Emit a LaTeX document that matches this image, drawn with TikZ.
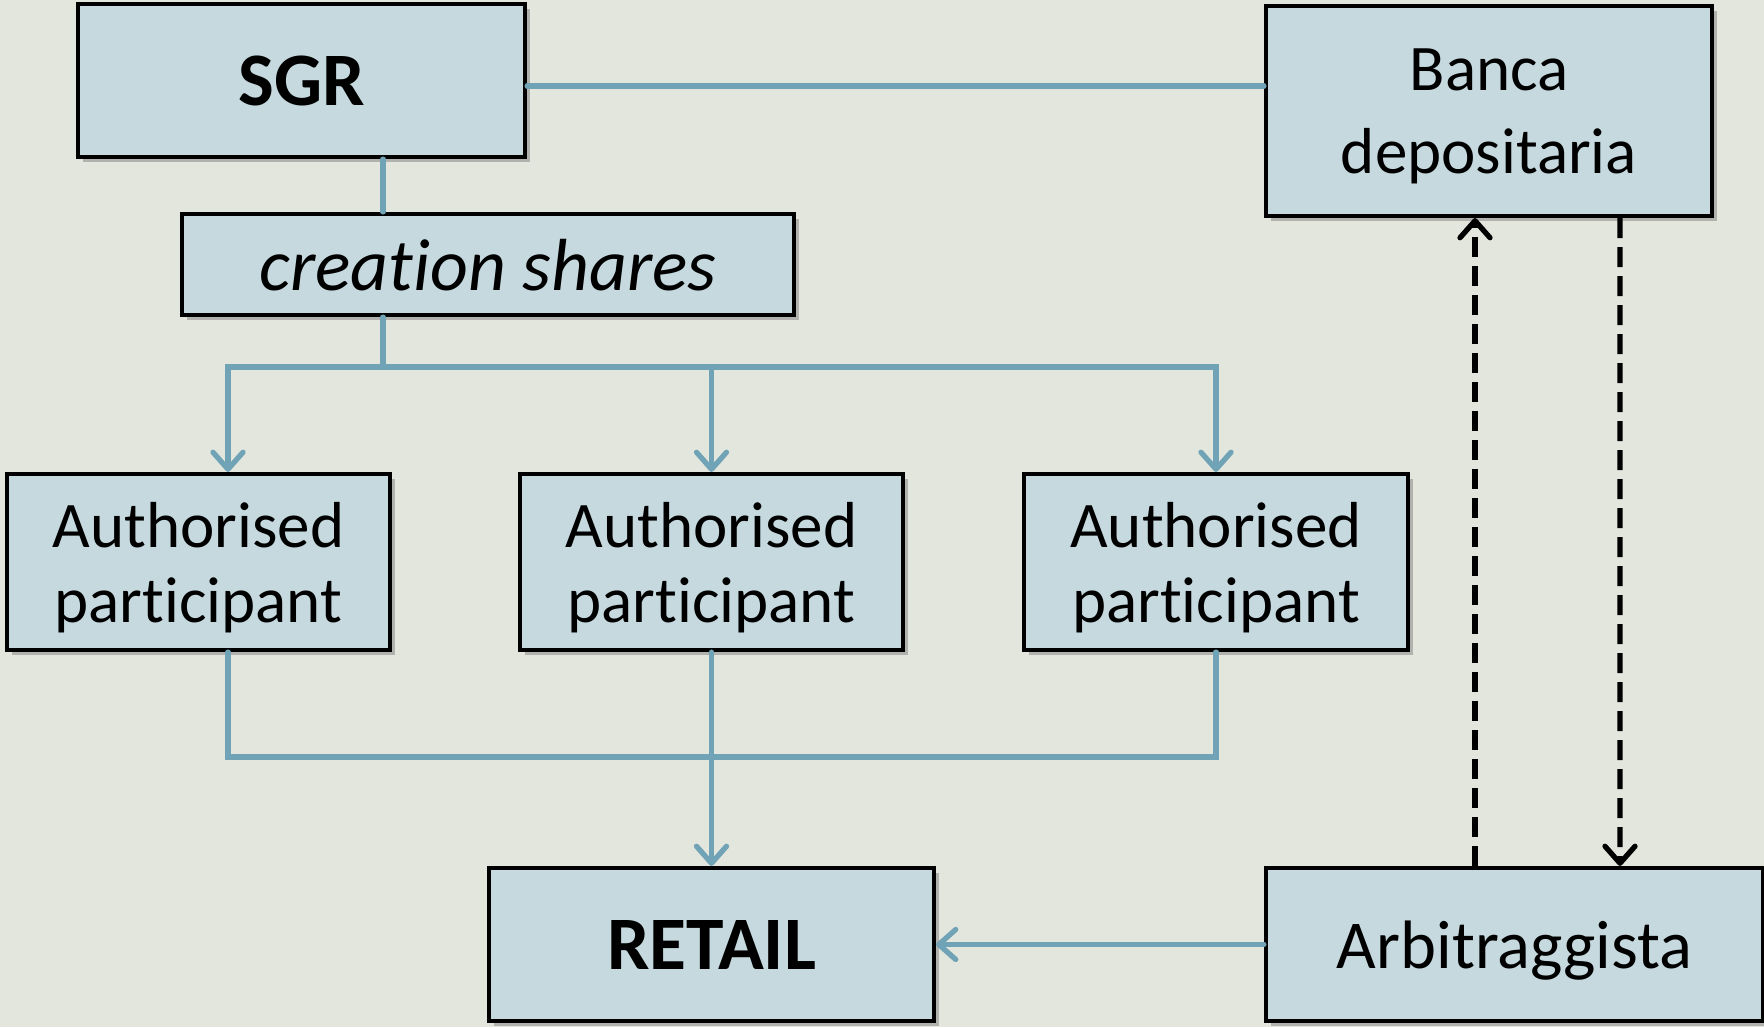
\documentclass[tikz,border=0pt]{standalone}
\usepackage{fontspec}
\setmainfont{Carlito}[Ligatures=NoCommon]
\usetikzlibrary{arrows.meta,shadows}
\definecolor{bgcol}{RGB}{227,230,221}
\definecolor{boxcol}{RGB}{197,217,223}
\definecolor{linecol}{RGB}{111,163,181}
\begin{document}
\begin{tikzpicture}
        \tikzstyle{every node}=[draw=black, line width=1.2pt, fill=boxcol, inner sep=0pt, align=center, text depth=0pt, drop shadow={shadow xshift=0.05cm, shadow yshift=-0.05cm, opacity=0.5}, font=\fontsize{18.5}{21.3}\selectfont]
        \tikzstyle{bold}=[font=\fontsize{21.5}{24}\selectfont\bfseries]
        \tikzstyle{flow}=[draw=linecol, line width=1.5pt, line cap=round]
        \tikzstyle{tip}=[-{Straight Barb[length=1.7mm, width=3mm, round]}]
        \tikzstyle{dashflow}=[draw=black, line width=1.5pt, dash pattern=on 2mm off 0.9mm, -{Straight Barb[length=1.7mm, width=3mm, round]}]
        \fill[bgcol] (0,0) rectangle (17.64,10.27);
        \useasboundingbox (0,0) rectangle (17.64,10.27);
        \node [bold, minimum width=4.47cm, minimum height=1.53cm] (sgr) at (3.015,9.465) {SGR};
        \node [minimum width=4.46cm, minimum height=2.10cm, font=\fontsize{18.5}{23.6}\selectfont] (banca) at (14.89,9.16) {Banca\\depositaria};
        \node [minimum width=6.12cm, minimum height=1.01cm, font=\fontsize{21}{24}\selectfont\itshape] (creation) at (4.88,7.625) {creation shares};
        \node [minimum width=3.83cm, minimum height=1.76cm] (ap1) at (1.985,4.65) {Authorised\\participant};
        \node [minimum width=3.83cm, minimum height=1.76cm] (ap2) at (7.115,4.65) {Authorised\\participant};
        \node [minimum width=3.84cm, minimum height=1.76cm] (ap3) at (12.16,4.65) {Authorised\\participant};
        \node [bold, minimum width=4.45cm, minimum height=1.53cm] (retail) at (7.115,0.825) {RETAIL};
        \node [minimum width=4.97cm, minimum height=1.53cm, font=\fontsize{19.5}{22}\selectfont] (arb) at (15.145,0.825) {Arbitraggista};
        \coordinate (split) at (3.83,6.60);
        \coordinate (join) at (7.115,2.70);
        \draw[flow] ([yshift=-0.055cm]sgr.east) -- ([yshift=-0.055cm]sgr.east -| banca.west);
        \draw[flow] (sgr.south -| split) -- (creation.north -| split);
        \draw[flow] (creation.south -| split) -- (split);
        \draw[flow,tip] (split) -| ([xshift=0.295cm]ap1.north);
        \draw[flow,tip] (split) -| (ap2.north);
        \draw[flow,tip] (split) -| (ap3.north);
        \draw[flow] ([xshift=0.295cm]ap1.south) |- (join) -| (ap3.south);
        \draw[flow,tip] (ap2.south) -- (retail.north);
        \draw[flow,tip] (arb.west) -- (retail.east);
        \draw[dashflow] ([xshift=-0.395cm]arb.north) -- ([xshift=-0.14cm]banca.south);
        \draw[dashflow] ([xshift=1.31cm]banca.south) -- ([xshift=1.055cm]arb.north);
    \end{tikzpicture}
\end{document}
